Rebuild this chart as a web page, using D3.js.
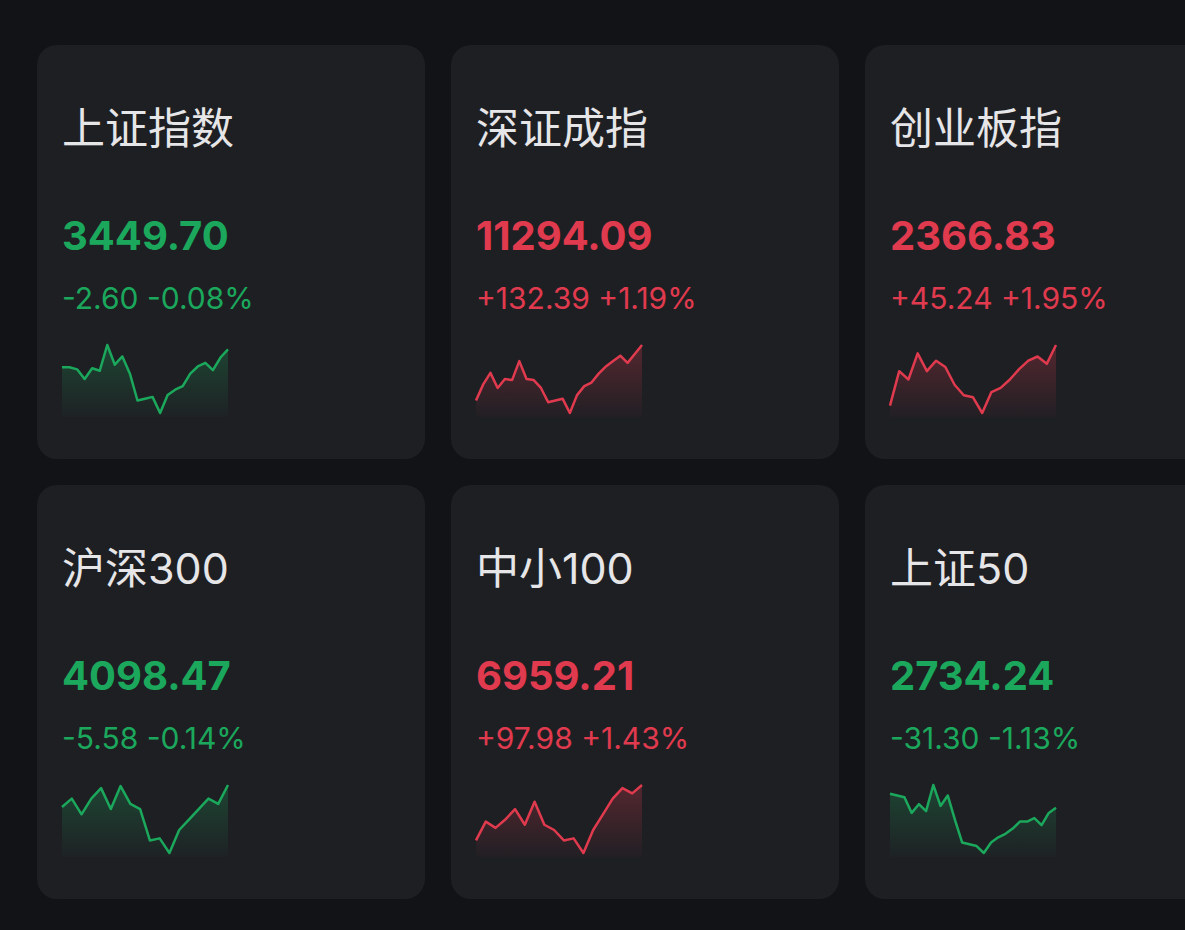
<!DOCTYPE html>
<html><head><meta charset="utf-8">
<script src="https://cdn.jsdelivr.net/npm/d3@7"></script>
<style>body{margin:0;background:#121317;overflow:hidden}</style>
</head><body>
<svg id="chart" width="1185" height="930"></svg>
<script>
var names = ["上证指数", "深证成指", "创业板指", "沪深300", "中小100", "上证50"];
var prices = ["3449.70", "11294.09", "2366.83", "4098.47", "6959.21", "2734.24"];
var changes = ["-2.60", "+132.39", "+45.24", "-5.58", "+97.98", "-31.30"];
var pcts = ["-0.08%", "+1.19%", "+1.95%", "-0.14%", "+1.43%", "-1.13%"];
var spark0 = [138,138,132,105,135,128,200,145,168,120,45,50,55,10,60,75,85,120,140,150,130,165,188];
var spark1 = [45,90,122,80,105,102,155,105,102,80,40,45,50,10,60,85,95,120,140,155,170,150,175,200];
var spark2 = [15,48,40,65,48,58,52,35,25,23,8,28,32,40,50,58,62,55,73];
var spark3 = [52,60,45,60,70,50,72,55,50,20,22,8,30,40,50,60,55,73];
var spark4 = [20,38,32,40,50,35,57,35,30,20,22,8,30,45,60,70,65,73];
var spark5 = [185,180,175,130,155,135,210,150,180,110,45,40,35,15,45,60,70,85,105,105,115,95,130,145];
var sparks = [spark0, spark1, spark2, spark3, spark4, spark5];

var green = "#1ba85c", red = "#e03a4e";
var svg = d3.select("#chart");
var defs = svg.append("defs");
[["g", green], ["r", red]].forEach(function (c) {
    var lg = defs.append("linearGradient").attr("id", "grad" + c[0])
        .attr("x1", 0).attr("y1", 0).attr("x2", 0).attr("y2", 1);
    lg.append("stop").attr("offset", 0).attr("stop-color", c[1]).attr("stop-opacity", 0.28);
    lg.append("stop").attr("offset", 1).attr("stop-color", c[1]).attr("stop-opacity", 0.02);
});

var cardX = [37, 451, 865], cardY = [45, 485];
var font = "Inter, 'Noto Sans CJK SC', sans-serif";

names.forEach(function (name, i) {
    var x0 = cardX[i % 3], y0 = cardY[Math.floor(i / 3)];
    var up = changes[i][0] == "+";
    var col = up ? red : green;
    var g = svg.append("g").attr("transform", "translate(" + x0 + "," + y0 + ")");
    g.append("rect").attr("width", 388).attr("height", 414).attr("rx", 20).attr("fill", "#1e1f23");
    g.append("text").attr("x", 25).attr("y", 99).attr("fill", "#e6e6e8")
        .style("font-family", font).style("font-size", "43px").text(name);
    g.append("text").attr("x", 25).attr("y", 205).attr("fill", col)
        .style("font-family", font).style("font-size", "40px").style("font-weight", "bold").text(prices[i]);
    g.append("text").attr("x", 25).attr("y", 264).attr("fill", col)
        .style("font-family", font).style("font-size", "30px").text(changes[i] + " " + pcts[i]);

    var data = sparks[i];
    var xs = d3.scaleLinear().domain([0, data.length - 1]).range([25, 191]);
    var ys = d3.scaleLinear().domain(d3.extent(data)).range([368, 300]);
    var area = d3.area().x(function (d, j) { return xs(j); }).y0(372).y1(function (d) { return ys(d); });
    var line = d3.line().x(function (d, j) { return xs(j); }).y(function (d) { return ys(d); });
    g.append("path").datum(data).attr("d", area).attr("fill", "url(#grad" + (up ? "r" : "g") + ")");
    g.append("path").datum(data).attr("d", line).attr("fill", "none")
        .attr("stroke", col).attr("stroke-width", 2.5).attr("stroke-linejoin", "round");
});
</script>
</body></html>
